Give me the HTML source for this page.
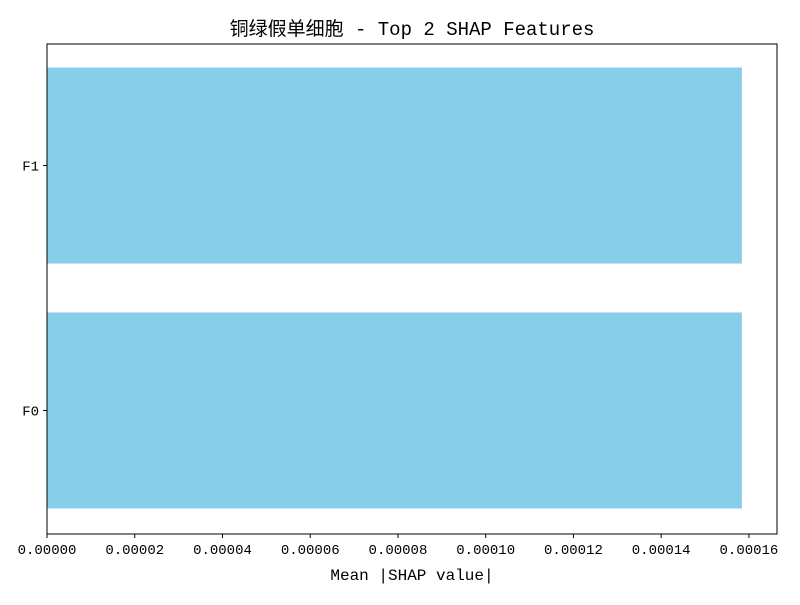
<!DOCTYPE html>
<html><head><meta charset="utf-8"><style>
body{margin:0;background:#fff;}
svg text{font-family:"Liberation Mono","WenQuanYi Zen Hei",monospace;fill:#000;}
</style></head><body>
<svg id="chart" width="800" height="600">
<rect width="800" height="600" fill="#fff"/>
<g id="bars"></g>
<rect x="47" y="44" width="730" height="490" fill="none" stroke="#000" stroke-width="1"/>
<g id="xticks"></g><g id="yticks"></g>
<text x="412" y="35" text-anchor="middle" font-size="19">铜绿假单细胞 - Top 2 SHAP Features</text>
<text x="412" y="580" text-anchor="middle" font-size="16">Mean |SHAP value|</text>
</svg>
<script>
const categories=["F0","F1"];
const values=[0.0001584,0.0001584];
const xTicks=[0,0.00002,0.00004,0.00006,0.00008,0.0001,0.00012,0.00014,0.00016];
const xTickLabels=["0.00000","0.00002","0.00004","0.00006","0.00008","0.00010","0.00012","0.00014","0.00016"];
const xMax=0.0001664;
const NS="http://www.w3.org/2000/svg";
const L=47,R=777,T=44,B=534;
const x=v=>L+v/xMax*(R-L);
const y=v=>B-(v-(-0.5))/2*(B-T);
function mk(t,a,p){const e=document.createElementNS(NS,t);for(const k in a)e.setAttribute(k,a[k]);p.appendChild(e);return e;}
const bars=document.getElementById('bars'),xt=document.getElementById('xticks'),yt=document.getElementById('yticks');
categories.forEach((c,i)=>{
 const r=mk('rect',{x:x(0),y:y(i+0.4)-1,width:x(values[i])-x(0),height:y(i-0.4)-y(i+0.4),fill:'#87CEEB'},bars);
 
 
 const tk=mk('line',{x1:L-4,x2:L,y1:y(i)-1,y2:y(i)-1,stroke:'#000'},yt);
 
 
 const tl=mk('text',{x:L-8,y:y(i)+4,'text-anchor':'end','font-size':14},yt);
 tl.textContent=c;
 
 
});
xTicks.forEach((v,i)=>{
 const tk=mk('line',{x1:x(v),x2:x(v),y1:B,y2:B+4,stroke:'#000'},xt);
 
 
 const tl=mk('text',{x:x(v),y:B+20,'text-anchor':'middle','font-size':14},xt);
 tl.textContent=xTickLabels[i];
 
 
});
</script>
</body></html>
